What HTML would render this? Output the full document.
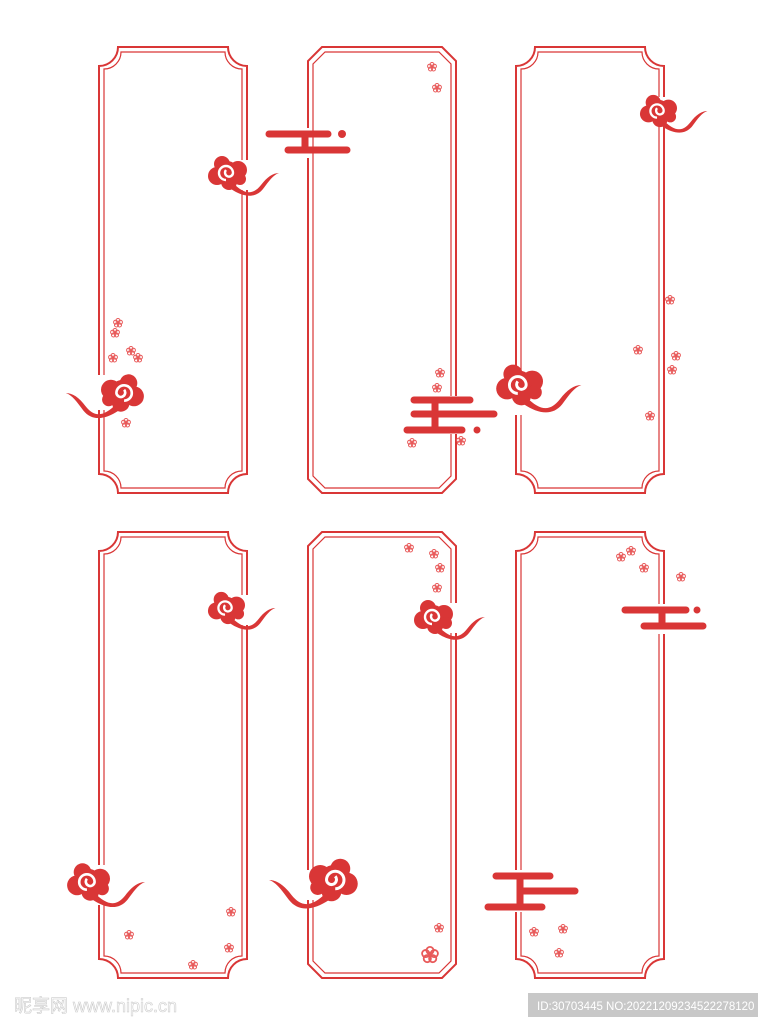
<!DOCTYPE html>
<html><head><meta charset="utf-8"><style>
html,body{margin:0;padding:0;background:#fff;width:766px;height:1024px;overflow:hidden}
svg{display:block}
</style></head><body>
<svg width="766" height="1024" viewBox="0 0 766 1024" xmlns="http://www.w3.org/2000/svg">
<defs>
<g id="cloud">
 <path d="M6,10 C18,22 26,22 34,12 C40,4 46,0 52,0 C46,2 42,8 36,16 C28,26 16,24 4,16 Z" fill="#d93636"/>
 <circle cx="0" cy="0" r="12" fill="#d93636"/>
 <circle cx="11" cy="-3" r="9" fill="#d93636"/>
 <circle cx="-10" cy="3" r="9" fill="#d93636"/>
 <circle cx="-5" cy="-9" r="8" fill="#d93636"/>
 <circle cx="2" cy="9" r="8" fill="#d93636"/>
 <circle cx="13" cy="6" r="6" fill="#d93636"/>
 <path d="M-1,7 A7,7 0 1 1 6,0 A4,4 0 1 1 -1,-3" fill="none" stroke="#fff" stroke-width="2.4"/>
</g>
<g id="fl" fill="none" stroke="#e85a5a" stroke-width="1">
 <circle cx="0" cy="-2.5" r="2"/><circle cx="2.4" cy="-0.8" r="2"/><circle cx="1.5" cy="2" r="2"/><circle cx="-1.5" cy="2" r="2"/><circle cx="-2.4" cy="-0.8" r="2"/>
</g>
</defs>
<g fill="none" stroke="#d93636" stroke-width="2">
 <g id="cf">
  <path d="M118,47 H228 A19,19 0 0 0 247,66 V474 A19,19 0 0 0 228,493 H118 A19,19 0 0 0 99,474 V66 A19,19 0 0 0 118,47 Z"/>
  <path d="M121,52 H225 A17,17 0 0 0 242,69 V471 A17,17 0 0 0 225,488 H121 A17,17 0 0 0 104,471 V69 A17,17 0 0 0 121,52 Z" stroke-width="1.2"/>
 </g>
 <use href="#cf" x="417"/>
 <use href="#cf" y="485"/>
 <use href="#cf" x="417" y="485"/>
 <g id="chf">
  <path d="M322,47 H442 L456,61 V479 L442,493 H322 L308,479 V61 Z"/>
  <path d="M325,52 H439 L451,64 V476 L439,488 H325 L313,476 V64 Z" stroke-width="1.2"/>
 </g>
 <use href="#chf" y="485"/>
</g>
<g fill="#fff">
 <rect x="240" y="160" width="12" height="30"/>
 <rect x="300" y="128" width="12" height="30"/>
 <rect x="95" y="375" width="12" height="35"/>
 <rect x="445" y="396" width="14" height="38"/>
 <rect x="655" y="97" width="14" height="30"/>
 <rect x="512" y="370" width="14" height="45"/>
 <rect x="240" y="595" width="12" height="30"/>
 <rect x="95" y="865" width="12" height="40"/>
 <rect x="448" y="603" width="12" height="30"/>
 <rect x="304" y="870" width="12" height="30"/>
 <rect x="655" y="604" width="14" height="30"/>
 <rect x="512" y="870" width="14" height="42"/>
</g>
<use href="#cloud" transform="translate(227,173) scale(1)"/>
<use href="#cloud" transform="translate(123,393) scale(-1.1,1.1)"/>
<use href="#cloud" transform="translate(658,111) scale(0.95)"/>
<use href="#cloud" transform="translate(519,385) scale(1.2)"/>
<use href="#cloud" transform="translate(226,608) scale(0.95)"/>
<use href="#cloud" transform="translate(88,882) scale(1.1)"/>
<use href="#cloud" transform="translate(433,617) scale(1)"/>
<use href="#cloud" transform="translate(334,880) scale(-1.25,1.25)"/>
<g stroke="#d93636" stroke-width="7" stroke-linecap="round" fill="none">
 <path d="M269,134 H328 M288,150 H347 M305,134 V150"/>
 <path d="M414,400 H470 M407,430 H462 M414,414 H494 M435,400 V430"/>
 <path d="M625,610 H686 M644,626 H703 M662,610 V626"/>
 <path d="M496,876 H550 M522,891 H575 M488,907 H542 M520,876 V907"/>
</g>
<g fill="#d93636">
 <circle cx="342" cy="134" r="4"/>
 <circle cx="477" cy="430" r="3.5"/>
 <circle cx="697" cy="610" r="3.5"/>
</g>
<g>
 <use href="#fl" x="432" y="67"/><use href="#fl" x="437" y="88"/>
 <use href="#fl" x="118" y="323"/><use href="#fl" x="115" y="333"/><use href="#fl" x="131" y="351"/><use href="#fl" x="138" y="358"/><use href="#fl" x="113" y="358"/><use href="#fl" x="126" y="423"/>
 <use href="#fl" x="440" y="373"/><use href="#fl" x="437" y="388"/><use href="#fl" x="412" y="443"/><use href="#fl" x="461" y="441"/>
 <use href="#fl" x="670" y="300"/><use href="#fl" x="638" y="350"/><use href="#fl" x="676" y="356"/><use href="#fl" x="672" y="370"/><use href="#fl" x="650" y="416"/>
 <use href="#fl" x="129" y="935"/><use href="#fl" x="231" y="912"/><use href="#fl" x="229" y="948"/><use href="#fl" x="193" y="965"/>
 <use href="#fl" x="409" y="548"/><use href="#fl" x="434" y="554"/><use href="#fl" x="440" y="568"/><use href="#fl" x="437" y="588"/>
 <use href="#fl" x="439" y="928"/><use href="#fl" transform="translate(430,955) scale(1.8)"/>
 <use href="#fl" x="631" y="551"/><use href="#fl" x="621" y="557"/><use href="#fl" x="644" y="568"/><use href="#fl" x="681" y="577"/>
 <use href="#fl" x="563" y="929"/><use href="#fl" x="534" y="932"/><use href="#fl" x="559" y="953"/>
</g>
<text x="14" y="1012" font-family="'Liberation Sans','Noto Sans CJK SC',sans-serif" font-size="18" fill="#fff" stroke="#ccc" stroke-width="0.6">昵享网 www.nipic.cn</text>
<rect x="528" y="993" width="230" height="24" fill="#c8c8c8"/>
<text x="537" y="1010" font-family="'Liberation Sans',sans-serif" font-size="11.5" fill="#fff">ID:30703445 NO:20221209234522278120</text>
</svg>
</body></html>
